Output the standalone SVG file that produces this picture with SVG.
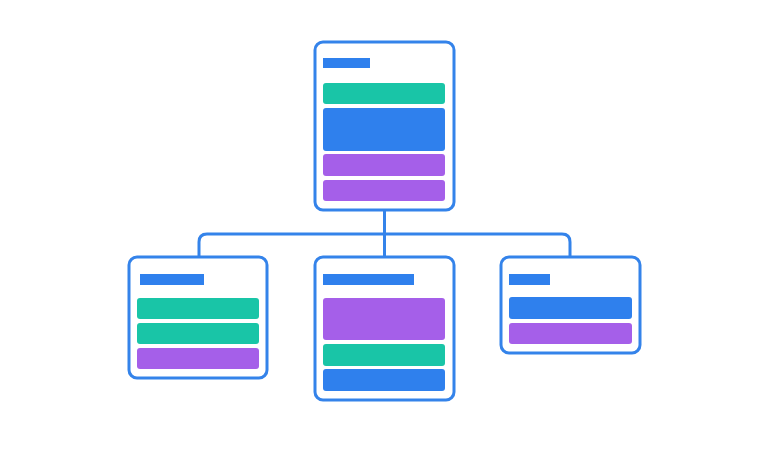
<svg xmlns="http://www.w3.org/2000/svg" width="768" height="450" viewBox="0 0 768 450">
<style>
.card{fill:#fff;stroke:#3483EA;stroke-width:3}
.conn{fill:none;stroke:#3483EA;stroke-width:3;stroke-linejoin:round}
.b{fill:#2F80ED}
.g{fill:#19C5A7}
.p{fill:#A55FE9}
</style>
<rect width="768" height="450" fill="#fff"/>
<g id="connectors">
<path class="conn" d="M384.5 210 V234 M199 257 V242 Q199 234 207 234 H562 Q570 234 570 242 V257 M384.5 234 V257"/>
</g>
<g id="node-top">
<rect class="card" x="315" y="42" width="139" height="168" rx="8"/>
<rect class="b" x="323" y="58" width="47" height="10"/>
<rect class="g" x="323" y="83" width="122" height="21" rx="3"/>
<rect class="b" x="323" y="108" width="122" height="43" rx="3"/>
<rect class="p" x="323" y="154" width="122" height="22" rx="3"/>
<rect class="p" x="323" y="180" width="122" height="21" rx="3"/>
</g>
<g id="node-left">
<rect class="card" x="129" y="257" width="138" height="121" rx="8"/>
<rect class="b" x="140" y="274" width="64" height="11"/>
<rect class="g" x="137" y="298" width="122" height="21" rx="3"/>
<rect class="g" x="137" y="323" width="122" height="21" rx="3"/>
<rect class="p" x="137" y="348" width="122" height="21" rx="3"/>
</g>
<g id="node-middle">
<rect class="card" x="315" y="257" width="139" height="143" rx="8"/>
<rect class="b" x="323" y="274" width="91" height="11"/>
<rect class="p" x="323" y="298" width="122" height="42" rx="3"/>
<rect class="g" x="323" y="344" width="122" height="22" rx="3"/>
<rect class="b" x="323" y="369" width="122" height="22" rx="3"/>
</g>
<g id="node-right">
<rect class="card" x="501" y="257" width="139" height="96" rx="8"/>
<rect class="b" x="509" y="274" width="41" height="11"/>
<rect class="b" x="509" y="297" width="123" height="22" rx="3"/>
<rect class="p" x="509" y="323" width="123" height="21" rx="3"/>
</g>
</svg>
